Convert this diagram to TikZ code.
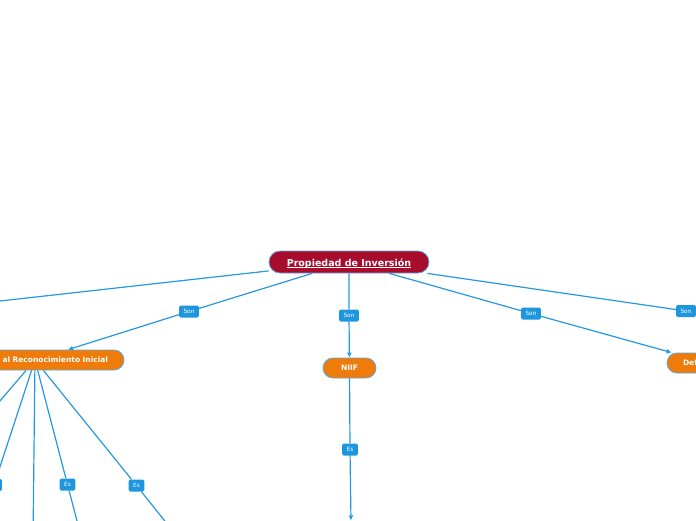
\documentclass[tikz,border=0pt]{standalone}
\usepackage{fontspec}
\setmainfont{DejaVu Sans}
\usetikzlibrary{arrows.meta}
\definecolor{lineblue}{RGB}{36,152,224}
\definecolor{lblblue}{RGB}{30,150,222}
\definecolor{rootred}{RGB}{168,12,44}
\definecolor{orng}{RGB}{239,123,10}
\definecolor{bord}{RGB}{90,170,225}
\newcommand\myul[1]{\setbox0\hbox{#1}\rlap{\vrule width\wd0 height -1.1pt depth 1.9pt}\box0}
\begin{document}
\begin{tikzpicture}[x=1pt,y=-1pt,
 conn/.style={draw=lineblue, line width=1.2pt},
 arr/.style={-{Latex[length=5pt,width=5pt]}},
 lbl/.style={fill=lblblue, text=white, font=\fontsize{5.8}{6}\selectfont, rounded corners=1.5pt, inner xsep=4.5pt, inner ysep=0pt, minimum height=12pt},
 rootnode/.style={fill=rootred, draw=bord, line width=0.8pt, rounded corners=11pt, minimum width=160pt, minimum height=22pt, text=white, font=\fontsize{9.5}{11}\selectfont\bfseries, inner sep=0pt, text height=8pt, text depth=0pt},
 onode/.style={fill=orng, draw=bord, line width=0.8pt, rounded corners=10pt, minimum height=20pt, text=white, font=\fontsize{7.5}{9}\selectfont\bfseries, inner sep=0pt}]
\useasboundingbox (0,0) rectangle (696,520);
\clip (0,0) rectangle (696,520);

% nodes
\node[rootnode] (root) at (349,262) {\myul{Propiedad de Inversión}};
\node[onode, inner xsep=16pt, text width=146pt, align=right] (reco) at (35,360) {al Reconocimiento Inicial};
\node[onode, minimum width=53pt] (niif) at (349.5,368) {NIIF};
\node[onode, inner xsep=16pt, text width=52pt, align=left] (defi) at (709,363) {Def};

% labels
\node[lbl] (s1) at (189,311.5) {Son};
\node[lbl] (s2) at (349,315.5) {Son};
\node[lbl] (s3) at (531,313.5) {Son};
\node[lbl] (s4) at (686,311) {Son};
\node[lbl] (es0) at (350,449.5) {Es};
\node[lbl] (esa) at (-6,485) {Es};
\node[lbl] (esb) at (67.5,484.5) {Es};
\node[lbl] (esc) at (136.5,485.5) {Es};

% free ends
\coordinate (fl) at (-100,312.2);
\coordinate (fr) at (760,321.2);
\coordinate (nd) at (351,520.5);
\coordinate (e1) at (-42,450);
\coordinate (e2) at (-24,540);
\coordinate (e3) at (33,540);
\coordinate (e4) at (82,540);
\coordinate (e5) at (180,540);

% connectors
\draw[conn] (root) -- (fl);
\draw[conn,arr] (root) -- (s1) -- (reco);
\draw[conn,arr] (root) -- (s2) -- (niif);
\draw[conn,arr] (root) -- (s3) -- (defi);
\draw[conn] (root) -- (s4) -- (fr);
\draw[conn,arr] (niif) -- (es0) -- (nd);
\draw[conn] (reco) -- (e1);
\draw[conn] (reco) -- (esa) -- (e2);
\draw[conn] (reco) -- (e3);
\draw[conn] (reco) -- (esb) -- (e4);
\draw[conn] (reco) -- (esc) -- (e5);
\end{tikzpicture}
\end{document}
